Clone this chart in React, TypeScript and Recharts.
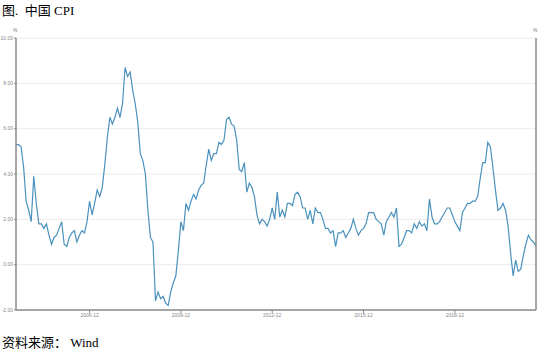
import { LineChart, Line, XAxis, YAxis, CartesianGrid } from 'recharts';

// 中国 CPI 当月同比 (%), 2004-07 ~ 2021-08
const cpi2004 = [5.3, 5.3, 5.2, 4.3, 2.8, 2.4]; // Jul-Dec
const cpi2005 = [1.9, 3.9, 2.7, 1.8, 1.8, 1.6, 1.8, 1.3, 0.9, 1.2, 1.3, 1.6];
const cpi2006 = [1.9, 0.9, 0.8, 1.2, 1.4, 1.5, 1.0, 1.3, 1.5, 1.4, 1.9, 2.8];
const cpi2007 = [2.2, 2.7, 3.3, 3.0, 3.4, 4.4, 5.6, 6.5, 6.2, 6.5, 6.9, 6.5];
const cpi2008 = [7.1, 8.7, 8.3, 8.5, 7.7, 7.1, 6.3, 4.9, 4.6, 4.0, 2.4, 1.2];
const cpi2009 = [1.0, -1.6, -1.2, -1.5, -1.4, -1.7, -1.8, -1.2, -0.8, -0.5, 0.6, 1.9];
const cpi2010 = [1.5, 2.7, 2.4, 2.8, 3.1, 2.9, 3.3, 3.5, 3.6, 4.4, 5.1, 4.6];
const cpi2011 = [4.9, 4.9, 5.4, 5.3, 5.5, 6.4, 6.5, 6.2, 6.1, 5.5, 4.2, 4.1];
const cpi2012 = [4.5, 3.2, 3.6, 3.4, 3.0, 2.2, 1.8, 2.0, 1.9, 1.7, 2.0, 2.5];
const cpi2013 = [2.0, 3.2, 2.1, 2.4, 2.1, 2.7, 2.7, 2.6, 3.1, 3.2, 3.0, 2.5];
const cpi2014 = [2.5, 2.0, 2.4, 1.8, 2.5, 2.3, 2.3, 2.0, 1.6, 1.6, 1.4, 1.5];
const cpi2015 = [0.8, 1.4, 1.4, 1.5, 1.2, 1.4, 1.6, 2.0, 1.6, 1.3, 1.5, 1.6];
const cpi2016 = [1.8, 2.3, 2.3, 2.3, 2.0, 1.9, 1.8, 1.3, 1.9, 2.1, 2.3, 2.1];
const cpi2017 = [2.5, 0.8, 0.9, 1.2, 1.5, 1.5, 1.4, 1.8, 1.6, 1.9, 1.7, 1.8];
const cpi2018 = [1.5, 2.9, 2.1, 1.8, 1.8, 1.9, 2.1, 2.3, 2.5, 2.5, 2.2, 1.9];
const cpi2019 = [1.7, 1.5, 2.3, 2.5, 2.7, 2.7, 2.8, 2.8, 3.0, 3.8, 4.5, 4.5];
const cpi2020 = [5.4, 5.2, 4.3, 3.3, 2.4, 2.5, 2.7, 2.4, 1.7, 0.5, -0.5, 0.2];
const cpi2021 = [-0.3, -0.2, 0.4, 0.9, 1.3, 1.1, 1.0, 0.8]; // Jan-Aug

const xTicks = ['2006-12', '2009-12', '2012-12', '2015-12', '2018-12'];
const yTicks = [-2, 0, 2, 4, 6, 8, 10];

const cpiValues = [
  ...cpi2004, ...cpi2005, ...cpi2006, ...cpi2007, ...cpi2008, ...cpi2009,
  ...cpi2010, ...cpi2011, ...cpi2012, ...cpi2013, ...cpi2014, ...cpi2015,
  ...cpi2016, ...cpi2017, ...cpi2018, ...cpi2019, ...cpi2020, ...cpi2021,
];

// month labels, starting 2004-07
const data = cpiValues.map((v, i) => {
  const m = 6 + i;
  const year = 2004 + Math.floor(m / 12);
  const month = (m % 12) + 1;
  return { month: `${year}-${String(month).padStart(2, '0')}`, cpi: v };
});

const serif = '"Liberation Serif", "Noto Sans CJK SC", serif';
const tickStyle = { fill: '#888', fontSize: 5, fontFamily: 'Arial, "Liberation Sans", sans-serif' };
const axisLine = { stroke: '#8a8a8a', strokeWidth: 1.5 };
const tickLine = { stroke: '#8a8a8a', strokeWidth: 1 };

export default function App() {
  return (
    <div style={{ position: 'absolute', left: 0, top: 0, width: 555, height: 353, background: '#fff' }}>
      <div style={{ position: 'absolute', left: 2, top: 0, fontFamily: serif, fontSize: 13, color: '#000', whiteSpace: 'pre' }}>
        图.  中国 CPI
      </div>
      <div style={{ position: 'absolute', left: 13, top: 27, fontSize: 5, color: '#777', fontFamily: 'Arial, sans-serif' }}>%</div>
      <div style={{ position: 'absolute', left: 533, top: 27, fontSize: 5, color: '#777', fontFamily: 'Arial, sans-serif' }}>%</div>
      <div style={{ position: 'absolute', left: 0, top: 0 }}>
        <LineChart width={555} height={330} data={data} margin={{ top: 38, right: 0, left: 0, bottom: 8 }}>
          <CartesianGrid yAxisId="left" vertical={false} stroke="#ebebeb" />
          <XAxis
            dataKey="month"
            ticks={xTicks}
            interval={0}
            tick={tickStyle}
            tickSize={3}
            tickMargin={0}
            height={12}
            axisLine={axisLine}
            tickLine={tickLine}
          />
          <YAxis
            yAxisId="left"
            domain={[-2, 10]}
            ticks={yTicks}
            tickFormatter={(v: number) => v.toFixed(2)}
            tick={tickStyle}
            tickSize={2}
            tickMargin={1}
            width={16}
            axisLine={axisLine}
            tickLine={tickLine}
          />
          <YAxis
            yAxisId="right"
            orientation="right"
            domain={[-2, 10]}
            ticks={yTicks}
            tickFormatter={(v: number) => v.toFixed(2)}
            tick={tickStyle}
            tickSize={2}
            tickMargin={1}
            width={19}
            axisLine={axisLine}
            tickLine={tickLine}
          />
          <Line
            yAxisId="left"
            type="linear"
            dataKey="cpi"
            stroke="#4a92bd"
            strokeWidth={1.2}
            dot={false}
            isAnimationActive={false}
          />
        </LineChart>
      </div>
      <div style={{ position: 'absolute', left: 2, top: 332, fontFamily: serif, fontSize: 13, color: '#000', whiteSpace: 'pre' }}>
        资料来源： Wind
      </div>
    </div>
  );
}
